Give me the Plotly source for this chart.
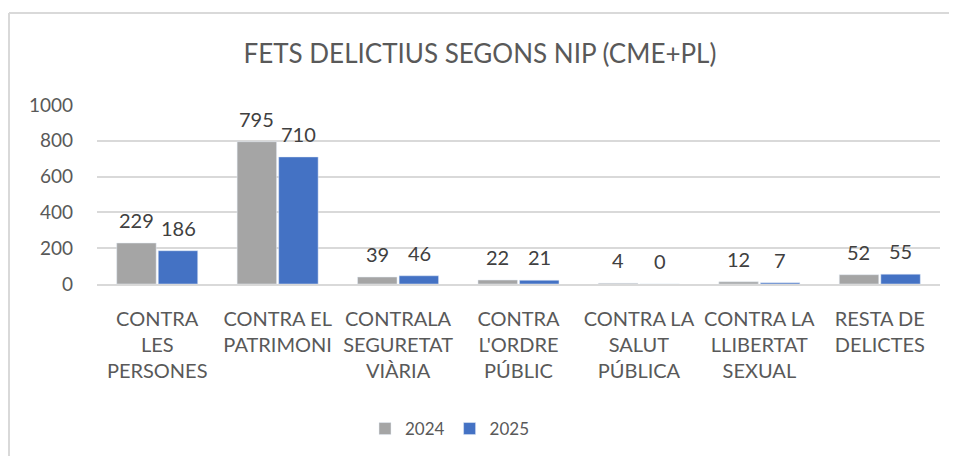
import plotly.graph_objects as go

categories = [
    "CONTRA<br>LES<br>PERSONES",
    "CONTRA EL<br>PATRIMONI",
    "CONTRALA<br>SEGURETAT<br>VIÀRIA",
    "CONTRA<br>L'ORDRE<br>PÚBLIC",
    "CONTRA LA<br>SALUT<br>PÚBLICA",
    "CONTRA LA<br>LLIBERTAT<br>SEXUAL",
    "RESTA DE<br>DELICTES",
]
values_2024 = [229, 795, 39, 22, 4, 12, 52]
values_2025 = [186, 710, 46, 21, 0, 7, 55]
y_ticks = [0, 200, 400, 600, 800, 1000]

FONT = "Lato"
TEXT = "#595959"

# page is drawn with an 8px body offset, so the layout is shifted up/left
L, R, T, B = 89, 25, 97, 180
PW = 957 - L - R
PH = 456 - T - B

fig = go.Figure()
series = [("2024", values_2024, "#A5A5A5", -21), ("2025", values_2025, "#4472C4", 21)]
for name, vals, color, dx in series:
    fig.add_trace(go.Bar(x=categories, y=vals, name=name, marker_color=color))
    for cat, v in zip(categories, vals):
        fig.add_annotation(x=cat, y=v, text=str(v), showarrow=False,
                           xshift=dx, yshift=9, yanchor="bottom",
                           font=dict(size=20, color="#404040", family=FONT))

fig.update_layout(
    width=957, height=456,
    margin=dict(l=L, r=R, t=T, b=B),
    paper_bgcolor="white", plot_bgcolor="white",
    barmode="group", bargap=0.31, bargroupgap=0.05,
    font=dict(family=FONT, color=TEXT, size=19),
    title=dict(text="FETS DELICTIUS SEGONS NIP (CME+PL)", x=(480 - 8) / 957, xanchor="center",
               y=1 - 46 / 456, yanchor="middle", font=dict(size=26, color=TEXT, family=FONT)),
    legend=dict(orientation="h", x=(450 - 8 - L) / PW, xanchor="center",
                y=(276 - 421) / PH, yanchor="middle",
                font=dict(size=17, color=TEXT), itemwidth=30, tracegroupgap=0),
    showlegend=True,
)
fig.update_xaxes(showline=True, linecolor="#D9D9D9", linewidth=1.5,
                 tickfont=dict(size=20, color=TEXT), ticklabelstandoff=16)
fig.update_yaxes(range=[0, 1000], tickvals=y_ticks, showgrid=True, gridcolor="#D9D9D9",
                 gridwidth=1.5, zeroline=False, tickfont=dict(size=19, color=TEXT),
                 ticklabelstandoff=23)

# chart area border (left and top edges visible)
bx = (1 - L) / PW
by = (276 - 5) / PH
fig.add_shape(type="line", xref="paper", yref="paper",
              x0=bx, x1=bx, y0=(276 - 470) / PH, y1=by,
              line=dict(color="#D9D9D9", width=2))
fig.add_shape(type="line", xref="paper", yref="paper",
              x0=bx, x1=(970 - L) / PW, y0=by, y1=by,
              line=dict(color="#D9D9D9", width=2))

fig.write_html("out.html")
